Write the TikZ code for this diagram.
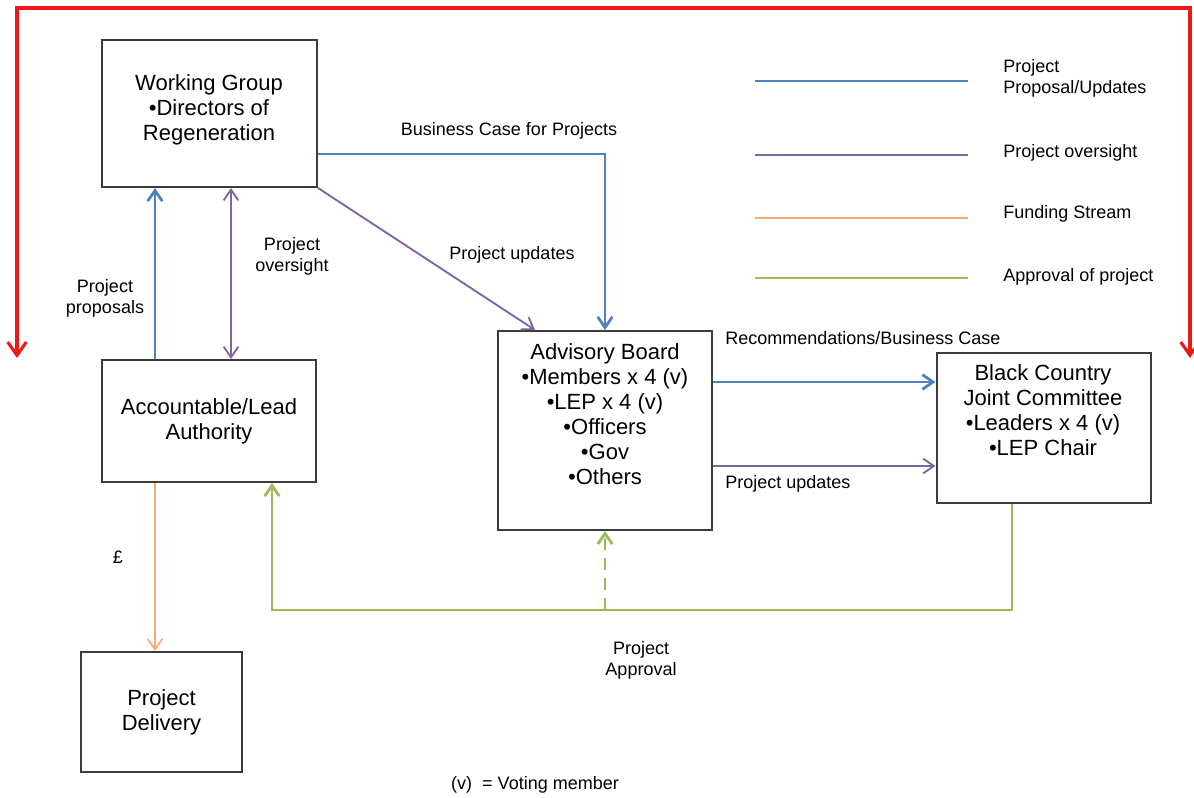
\documentclass[tikz,border=0pt]{standalone}
\usepackage{fontspec}
\setmainfont{Liberation Sans}
\usetikzlibrary{arrows.meta,positioning}
\definecolor{ppblue}{RGB}{79,129,189}
\definecolor{pppurple}{RGB}{128,100,162}
\definecolor{fsorange}{RGB}{247,170,115}
\definecolor{apgreen}{RGB}{155,187,89}
\definecolor{bcred}{RGB}{235,25,25}
\definecolor{boxgrey}{RGB}{60,60,60}
\begin{document}
\begin{tikzpicture}[x=0.75pt,y=-0.75pt,
  box/.style={draw=boxgrey,line width=1.5pt,inner sep=0pt,align=center,
    font=\fontsize{16.5}{18.75}\selectfont},
  boxtext/.style={align=center,inner sep=0pt,font=\fontsize{16.5}{18.75}\selectfont},
  lbl/.style={align=center,inner sep=0pt,font=\fontsize{13.5}{15.75}\selectfont},
  tip/.style={-{Straight Barb[length=8pt,width=11pt]}},
  blueln/.style={draw=ppblue,line width=2.1pt},
  purpleln/.style={draw=pppurple,line width=1.4pt},
  orangeln/.style={draw=fsorange,line width=1.3pt},
  greenln/.style={draw=apgreen,line width=2.1pt},
  redln/.style={draw=bcred,line width=2.3pt}]
\useasboundingbox (0,0) rectangle (1194,798);

% boxes
\node[box,minimum width=161.25pt,minimum height=110.25pt] (wg) at (209.5,113.5) {};
\node[boxtext] (wgtxt) at (209,110) {Working Group\\\textbullet Directors of\\Regeneration};
\node[box,minimum width=160.5pt,minimum height=91.5pt] (ala) at (209,421)
  {Accountable/Lead\\Authority};
\node[box,minimum width=120.75pt,minimum height=90pt] (pd) at (161.5,712)
  {Project\\Delivery};
\node[box,minimum width=160.5pt,minimum height=149.25pt] (ab) at (605,430.5) {};
\node[boxtext] (abtxt) at (605,414) {Advisory Board\\\textbullet Members x 4 (v)\\
  \textbullet LEP x 4 (v)\\\textbullet Officers\\\textbullet Gov\\\textbullet Others};
\node[box,minimum width=160.5pt,minimum height=112.5pt] (bc) at (1043.5,427.5) {};
\node[boxtext] (bctxt) at (1043,410) {Black Country\\Joint Committee\\
  \textbullet Leaders x 4 (v)\\\textbullet LEP Chair};

% bend points
\coordinate (pp) at (155,0);
\coordinate (ov) at (231,0);
\coordinate (bcase) at (605,154);
\coordinate (upd) at (535,0);
\coordinate (rec) at (0,382);
\coordinate (upd2) at (0,466);
\coordinate (apr) at (1012,610);
\coordinate (apl) at (272,610);
\coordinate (dsh) at (605,610);
\coordinate (rl) at (17,358);
\coordinate (rtl) at (17,8);
\coordinate (rtr) at (1190,8);
\coordinate (rr) at (1190,358);

% red loop
\draw[redln,{Straight Barb[length=10pt,width=14pt]}-{Straight Barb[length=10pt,width=14pt]}]
  (rl) -- (rtl) -- (rtr) -- (rr);

% connectors
\draw[blueln,tip] (pp |- ala.north) -- (pp |- wg.south);
\node[lbl] (pplbl) at (105,298) {Project\\proposals};
\draw[purpleln,{Straight Barb[length=8pt,width=11pt]}-{Straight Barb[length=8pt,width=11pt]}]
  (ov |- ala.north) -- (ov |- wg.south);
\node[lbl] (ovlbl) at (292,256) {Project\\oversight};
\draw[blueln,tip] (bcase -| wg.east) -- (bcase) -- (bcase |- ab.north);
\node[lbl] (bclbl) at (509,131) {Business Case for Projects};
\draw[purpleln,tip] (wg.south east) -- (upd |- ab.north);
\node[lbl] (updlbl) at (512,255) {Project updates};
\draw[blueln,tip] (ab.east |- rec) -- (bc.west |- rec);
\node[lbl,anchor=west] (reclbl) at (725,338) {Recommendations/Business Case};
\draw[purpleln,tip] (ab.east |- upd2) -- (bc.west |- upd2);
\node[lbl,anchor=west] (upd2lbl) at (725,484) {Project updates};
\draw[orangeln,tip] (pp |- ala.south) -- (pp |- pd.north);
\node[lbl] (gbp) at (118,557) {£};
\draw[greenln,tip] (apr |- bc.south) -- (apr) -- (apl) -- (apl |- ala.south);
\draw[greenln,dashed,dash pattern=on 9pt off 6pt,tip] (dsh) -- (ab.south);
\node[lbl] (aprlbl) at (641,660) {Project\\Approval};
\node[lbl] (vote) at (535,785) {(v)\ \ = Voting member};

% legend
\draw[blueln] (755,81) -- (968,81);
\node[lbl,anchor=west,align=left] (lg1) at (1003,78) {Project\\Proposal/Updates};
\draw[purpleln] (755,155) -- (968,155);
\node[lbl,anchor=west] (lg2) at (1003,153) {Project oversight};
\draw[orangeln] (755,218) -- (968,218);
\node[lbl,anchor=west] (lg3) at (1003,214) {Funding Stream};
\draw[greenln] (755,278) -- (968,278);
\node[lbl,anchor=west] (lg4) at (1003,277) {Approval of project};
\end{tikzpicture}
\end{document}
